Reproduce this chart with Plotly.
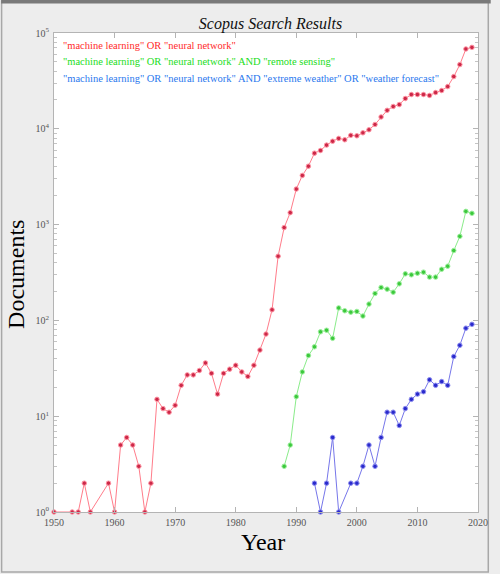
import plotly.graph_objects as go

# ---------------- data ----------------
red_years = [1950, 1953, 1954, 1955, 1956, 1959, 1960, 1961, 1962, 1963, 1964,
             1965, 1966, 1967, 1968, 1969, 1970, 1971, 1972, 1973, 1974, 1975,
             1976, 1977, 1978, 1979, 1980, 1981, 1982, 1983, 1984, 1985, 1986,
             1987, 1988, 1989, 1990, 1991, 1992, 1993, 1994, 1995, 1996, 1997,
             1998, 1999, 2000, 2001, 2002, 2003, 2004, 2005, 2006, 2007, 2008,
             2009, 2010, 2011, 2012, 2013, 2014, 2015, 2016, 2017, 2018, 2019]
red_values = [1, 1, 1, 2, 1, 2, 1, 5, 6, 5, 3,
              1, 2, 15, 12, 11, 13, 21, 27, 27, 30, 36,
              28, 17, 28, 31, 34, 29, 26, 34, 49, 72, 129,
              468, 931, 1333, 2350, 3260, 4070, 5570, 5940, 6760, 7420, 7940,
              7680, 8550, 8450, 9080, 9770, 11100, 13300, 15600, 17100, 17900, 20700,
              22800, 22800, 22800, 22300, 23900, 25100, 27600, 35100, 46800, 68100, 70800]

green_years = [1988, 1989, 1990, 1991, 1992, 1993, 1994, 1995, 1996, 1997, 1998,
               1999, 2000, 2001, 2002, 2003, 2004, 2005, 2006, 2007, 2008, 2009,
               2010, 2011, 2012, 2013, 2014, 2015, 2016, 2017, 2018, 2019]
green_values = [3, 5, 16, 29, 43, 53, 76, 79, 65, 135, 126,
                122, 124, 111, 148, 191, 221, 212, 197, 241, 306, 299,
                311, 319, 283, 283, 342, 368, 536, 755, 1375, 1312]

blue_years = [1993, 1994, 1995, 1996, 1997, 1999, 2000, 2001, 2002, 2003, 2004,
              2005, 2006, 2007, 2008, 2009, 2010, 2011, 2012, 2013, 2014, 2015,
              2016, 2017, 2018, 2019]
blue_values = [2, 1, 2, 6, 1, 2, 2, 3, 5, 3, 6,
               11, 11, 8, 12, 15, 17, 18, 24, 21, 23, 21,
               42, 55, 83, 91]

series_names = ['"machine learning" OR "neural network"',
                '"machine learning" OR "neural network" AND "remote sensing"',
                '"machine learning" OR "neural network" AND "extreme weather" OR "weather forecast"']

x_ticks = [1950, 1960, 1970, 1980, 1990, 2000, 2010, 2020]
y_tick_vals = [1, 10, 100, 1000, 10000, 100000]
y_tick_text = ["10<sup>0</sup>", "10<sup>1</sup>", "10<sup>2</sup>",
               "10<sup>3</sup>", "10<sup>4</sup>", "10<sup>5</sup>"]
y_minor_vals = [m * d for d in [1, 10, 100, 1000, 10000] for m in range(2, 10)]

title_text = "Scopus Search Results"
x_title = "Year"
y_title = "Documents"

# ---------------- styles ----------------
SERIF = "Liberation Serif"
line_colors = ["#ff7c8a", "#8aec8a", "#7676ea"]
marker_colors = ["#cc2848", "#3cc83c", "#2a2acc"]
marker_edges = ["#ff98a6", "#a0f0a0", "#9090f0"]
text_colors = ["#ff2a2a", "#22dd22", "#2a78ee"]

fig = go.Figure()
for xs, ys, i in [(red_years, red_values, 0), (green_years, green_values, 1),
                  (blue_years, blue_values, 2)]:
    fig.add_trace(go.Scatter(
        x=xs, y=ys, mode="lines+markers", name=series_names[i],
        line=dict(color=line_colors[i], width=1),
        marker=dict(size=4.5, color=marker_colors[i],
                    line=dict(color=marker_edges[i], width=1)),
        showlegend=False, cliponaxis=False))

# legend-like coloured text lines
for i, name in enumerate(series_names):
    fig.add_annotation(
        text=name, xref="paper", yref="paper", x=0, y=1,
        xanchor="left", yanchor="middle", showarrow=False,
        xshift=7, yshift=-12 - 16.5 * i,
        font=dict(family=SERIF, size=10.5, color=text_colors[i]))

# axis titles
fig.add_annotation(text=x_title, xref="paper", yref="paper", x=0.494, y=0,
                   xanchor="center", yanchor="middle", yshift=-30,
                   showarrow=False, font=dict(family=SERIF, size=24, color="#000"))
fig.add_annotation(text=y_title, xref="paper", yref="paper", x=0, y=0.495,
                   xanchor="center", yanchor="middle", xshift=-38, textangle=-90,
                   showarrow=False, font=dict(family=SERIF, size=24, color="#000"))

axis_common = dict(
    showline=True, linecolor="#b4b4b4", linewidth=1, mirror="ticks",
    ticks="inside", ticklen=5, tickcolor="#b4b4b4", showgrid=False,
    zeroline=False, tickfont=dict(family=SERIF, size=10, color="#555555"))

fig.update_xaxes(range=[1950, 2020], tickmode="array", tickvals=x_ticks,
                 ticklabelstandoff=1, **axis_common)
fig.update_yaxes(type="log", range=[0, 5], tickmode="array",
                 tickvals=y_tick_vals, ticktext=y_tick_text,
                 minor=dict(tickmode="array", tickvals=y_minor_vals,
                            ticks="inside", ticklen=3, tickcolor="#c4c4c4",
                            showgrid=False),
                 ticklabelstandoff=2, **axis_common)

# figure frame (decorative)
W, H = 500, 574
ml, mr, mt, mb = 54, 13, 33, 62
pw, ph = W - ml - mr, H - mt - mb
def px_x(v):
    return (v - ml) / pw
def px_y(v):
    return (H - mb - v) / ph
fig.add_shape(type="rect", xref="paper", yref="paper",
              x0=px_x(0.5), x1=px_x(W - 2.5), y0=px_y(H - 2), y1=px_y(1),
              line=dict(color="#a8a8a8", width=1.5), layer="below")
fig.add_shape(type="rect", xref="paper", yref="paper",
              x0=px_x(0), x1=px_x(W), y0=px_y(3.5), y1=px_y(0),
              line=dict(width=0), fillcolor="#7a7a7a", layer="below")

fig.update_layout(
    width=W, height=H,
    margin=dict(l=ml, r=mr, t=mt, b=mb),
    paper_bgcolor="#ededed", plot_bgcolor="#ffffff",
    title=dict(text=title_text, x=(ml + pw / 2) / W, xanchor="center",
               y=1 - 23 / H, yanchor="middle",
               font=dict(family=SERIF, size=16, color="#111111", style="italic")),
    font=dict(family=SERIF),
)

fig.write_html("out.html")
